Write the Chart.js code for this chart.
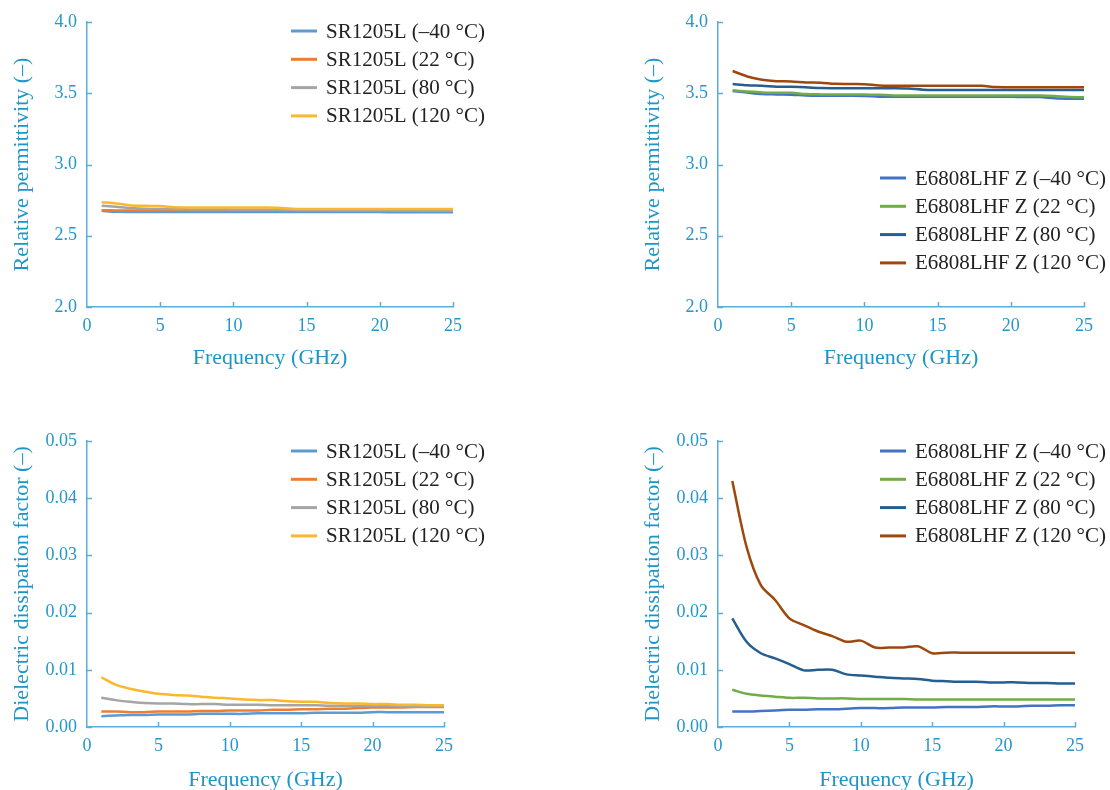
<!DOCTYPE html>
<html>
<head>
<meta charset="utf-8">
<script src="https://cdn.jsdelivr.net/npm/chart.js@4.4.0/dist/chart.umd.min.js"></script>
<style>
  html, body { margin: 0; padding: 0; background: #fff; overflow: hidden; }
  #wrap { position: relative; width: 1110px; height: 790px; }
  .box { position: absolute; height: 395px; }
</style>
</head>
<body>
<div id="wrap">
  <div class="box" style="left:0;top:0;width:560px"><canvas id="c1" width="560" height="395"></canvas></div>
  <div class="box" style="left:631px;top:0;width:479px"><canvas id="c2" width="479" height="395"></canvas></div>
  <div class="box" style="left:0;top:419px;width:560px"><canvas id="c3" width="560" height="395"></canvas></div>
  <div class="box" style="left:631px;top:419px;width:479px"><canvas id="c4" width="479" height="395"></canvas></div>
</div>
<script>
// Datos
const freq = [1,2,3,4,5,6,7,8,9,10,11,12,13,14,15,16,17,18,19,20,21,22,23,24,25];
const xTicks = [0,5,10,15,20,25];
const permTicks = [2.0,2.5,3.0,3.5,4.0];
const dfTicks = [0,0.01,0.02,0.03,0.04,0.05];

const srLabels = ['SR1205L (\u201340 \u00b0C)','SR1205L (22 \u00b0C)','SR1205L (80 \u00b0C)','SR1205L (120 \u00b0C)'];
const eLabels = ['E6808LHF Z (\u201340 \u00b0C)','E6808LHF Z (22 \u00b0C)','E6808LHF Z (80 \u00b0C)','E6808LHF Z (120 \u00b0C)'];
const srColors = ['#5b9bd5','#ed7d31','#a5a5a5','#fbb82c'];
const eColors = ['#4472c4','#70ad47','#255e91','#9e480e'];

// SR1205L permitividad
const srPerm40 = [2.675,2.668,2.667,2.667,2.667,2.667,2.667,2.667,2.667,2.667,2.667,2.667,2.667,2.667,2.667,2.666,2.666,2.666,2.666,2.666,2.665,2.665,2.665,2.665,2.665];
const srPerm22 = [2.679,2.678,2.678,2.678,2.679,2.679,2.679,2.679,2.679,2.679,2.679,2.679,2.679,2.680,2.680,2.680,2.680,2.680,2.680,2.681,2.681,2.681,2.681,2.681,2.681];
const srPerm80 = [2.711,2.703,2.695,2.690,2.688,2.686,2.685,2.684,2.684,2.683,2.683,2.682,2.682,2.680,2.679,2.679,2.678,2.678,2.678,2.677,2.677,2.677,2.676,2.676,2.676];
const srPerm120 = [2.735,2.727,2.713,2.710,2.708,2.700,2.698,2.698,2.698,2.698,2.698,2.698,2.697,2.690,2.688,2.688,2.688,2.688,2.688,2.688,2.688,2.688,2.688,2.688,2.688];

// E6808LHF Z permitividad
const ePerm40 = [3.516,3.505,3.495,3.492,3.490,3.484,3.482,3.482,3.482,3.481,3.476,3.475,3.475,3.475,3.475,3.475,3.475,3.475,3.475,3.475,3.474,3.473,3.465,3.462,3.462];
const ePerm22 = [3.521,3.512,3.505,3.503,3.503,3.494,3.492,3.492,3.492,3.491,3.489,3.485,3.484,3.484,3.484,3.484,3.484,3.484,3.484,3.484,3.484,3.484,3.480,3.473,3.472];
const ePerm80 = [3.565,3.556,3.553,3.546,3.545,3.542,3.536,3.535,3.535,3.535,3.535,3.535,3.533,3.525,3.523,3.523,3.523,3.523,3.523,3.523,3.523,3.523,3.523,3.523,3.523];
const ePerm120 = [3.656,3.618,3.595,3.585,3.583,3.576,3.574,3.566,3.565,3.564,3.555,3.553,3.553,3.553,3.553,3.553,3.553,3.552,3.543,3.542,3.542,3.542,3.542,3.542,3.542];

// SR1205L factor de disipación
const srDf40 = [0.0019,0.0020,0.0021,0.0021,0.0022,0.0022,0.0022,0.0023,0.0023,0.0023,0.0023,0.0024,0.0024,0.0024,0.0024,0.0025,0.0025,0.0025,0.0025,0.0026,0.0026,0.0026,0.0026,0.0026,0.0026];
const srDf22 = [0.0027,0.0027,0.0026,0.0026,0.0027,0.0027,0.0027,0.0028,0.0028,0.0029,0.0029,0.0029,0.0030,0.0030,0.0031,0.0031,0.0032,0.0032,0.0033,0.0034,0.0034,0.0034,0.0035,0.0035,0.0035];
const srDf80 = [0.0051,0.0047,0.0044,0.0042,0.0041,0.0041,0.0040,0.0040,0.0040,0.0039,0.0039,0.0039,0.0038,0.0038,0.0038,0.0038,0.0037,0.0037,0.0037,0.0037,0.0037,0.0036,0.0036,0.0036,0.0036];
const srDf120 = [0.0087,0.0074,0.0067,0.0062,0.0058,0.0056,0.0055,0.0053,0.0051,0.0050,0.0048,0.0047,0.0047,0.0045,0.0044,0.0044,0.0042,0.0041,0.0041,0.0040,0.0040,0.0039,0.0039,0.0038,0.0038];

// E6808LHF Z factor de disipación
const eDf40 = [0.0027,0.0027,0.0028,0.0029,0.0030,0.0030,0.0031,0.0031,0.0032,0.0033,0.0033,0.0033,0.0034,0.0034,0.0034,0.0035,0.0035,0.0035,0.0036,0.0036,0.0036,0.0037,0.0037,0.0038,0.0038];
const eDf22 = [0.0065,0.0058,0.0055,0.0053,0.0051,0.0051,0.0050,0.0050,0.0050,0.0049,0.0049,0.0049,0.0049,0.0048,0.0048,0.0048,0.0048,0.0048,0.0048,0.0048,0.0048,0.0048,0.0048,0.0048,0.0048];
const eDf80 = [0.0190,0.0149,0.0129,0.0120,0.0110,0.0099,0.0100,0.0100,0.0092,0.0090,0.0088,0.0086,0.0085,0.0084,0.0081,0.0080,0.0079,0.0079,0.0078,0.0078,0.0078,0.0077,0.0077,0.0076,0.0076];
const eDf120 = [0.0430,0.0315,0.0248,0.0222,0.0190,0.0178,0.0167,0.0159,0.0149,0.0151,0.0139,0.0139,0.0139,0.0141,0.0129,0.0130,0.0130,0.0130,0.0130,0.0130,0.0130,0.0130,0.0130,0.0130,0.0130];

const FONT = "'Liberation Serif', 'Times New Roman', serif";
const TICK_COLOR = '#2497cc';
const TITLE_COLOR = '#1c95c7';
const AXIS_COLOR = '#5aaedb';

// ===== PLUGIN: marcas de eje hacia dentro + leyenda =====
const extrasPlugin = {
    id: 'extras',
    afterDraw(chart, args, opts) {
        const ctx = chart.ctx;
        const xs = chart.scales.x, ys = chart.scales.y;
        ctx.save();
        ctx.strokeStyle = AXIS_COLOR;
        ctx.lineWidth = 1.5;
        ctx.beginPath();
        xs.ticks.forEach(t => {
            if (t.value === xs.min) return;
            const px = Math.round(xs.getPixelForValue(t.value)) + 0.5;
            ctx.moveTo(px, xs.top);
            ctx.lineTo(px, xs.top - 5);
        });
        ys.ticks.forEach(t => {
            const py = Math.round(ys.getPixelForValue(t.value)) + 0.5;
            ctx.moveTo(ys.right, py);
            ctx.lineTo(ys.right + 5, py);
        });
        ctx.stroke();

        // leyenda
        ctx.font = "21px " + FONT;
        ctx.textBaseline = 'middle';
        ctx.textAlign = 'left';
        chart.data.datasets.forEach((ds, i) => {
            const y = opts.y + i * 28.3;
            ctx.strokeStyle = ds.borderColor;
            ctx.lineWidth = 3;
            ctx.beginPath();
            ctx.moveTo(opts.x, y);
            ctx.lineTo(opts.x + 26, y);
            ctx.stroke();
            ctx.fillStyle = '#222';
            ctx.fillText(ds.label, opts.x + 35, y + 1);
        });
        ctx.restore();
    }
};

function makeChart(id, cfg) {
    const canvas = document.getElementById(id);
    const W = canvas.width, H = canvas.height;
    const datasets = cfg.series.map((vals, i) => ({
        label: cfg.labels[i],
        data: freq.map((f, k) => ({ x: f, y: vals[k] })),
        borderColor: cfg.colors[i],
        borderWidth: 2.5,
        pointRadius: 0,
        tension: 0.3,
        fill: false,
        order: cfg.series.length - i
    }));

    return new Chart(canvas, {
        type: 'line',
        data: { datasets },
        plugins: [extrasPlugin],
        options: {
            responsive: false,
            animation: false,
            devicePixelRatio: 1,
            layout: { padding: { left: 0, top: 22, right: W - cfg.right, bottom: 0 } },
            plugins: {
                legend: { display: false },
                tooltip: { enabled: false },
                extras: { x: cfg.legendX, y: cfg.legendY }
            },
            scales: {
                x: {
                    type: 'linear',
                    min: 0, max: 25,
                    afterBuildTicks: s => { s.ticks = xTicks.map(v => ({ value: v })); },
                    afterFit: s => { s.height = H - cfg.bottom; },
                    grid: { drawOnChartArea: false, drawTicks: false },
                    border: { color: AXIS_COLOR, width: 1.5 },
                    ticks: { color: TICK_COLOR, font: { family: FONT, size: 18 }, padding: 8, maxRotation: 0, callback: v => String(v) },
                    title: { display: true, text: 'Frequency (GHz)', color: TITLE_COLOR, font: { family: FONT, size: 22 }, padding: { top: 0, bottom: cfg.xTitlePad } }
                },
                y: {
                    min: cfg.yTicks[0], max: cfg.yTicks[cfg.yTicks.length - 1],
                    afterBuildTicks: s => { s.ticks = cfg.yTicks.map(v => ({ value: v })); },
                    afterFit: s => { s.width = 87; },
                    grid: { drawOnChartArea: false, drawTicks: false },
                    border: { color: AXIS_COLOR, width: 1.5 },
                    ticks: { color: TICK_COLOR, font: { family: FONT, size: 18 }, padding: 10, callback: v => v.toFixed(cfg.decimals) },
                    title: { display: true, text: cfg.yTitle, color: TITLE_COLOR, font: { family: FONT, size: 22 }, padding: { top: 9, bottom: 0 } }
                }
            }
        }
    });
}

makeChart('c1', { series: [srPerm40, srPerm22, srPerm80, srPerm120], labels: srLabels, colors: srColors,
    yTicks: permTicks, decimals: 1, yTitle: 'Relative permittivity (\u2013)', right: 453, bottom: 307, xTitlePad: 24, legendX: 291, legendY: 31 });
makeChart('c2', { series: [ePerm40, ePerm22, ePerm80, ePerm120], labels: eLabels, colors: eColors,
    yTicks: permTicks, decimals: 1, yTitle: 'Relative permittivity (\u2013)', right: 453, bottom: 307, xTitlePad: 24, legendX: 249, legendY: 178 });
makeChart('c3', { series: [srDf40, srDf22, srDf80, srDf120], labels: srLabels, colors: srColors,
    yTicks: dfTicks, decimals: 2, yTitle: 'Dielectric dissipation factor (\u2013)', right: 444, bottom: 308, xTitlePad: 21, legendX: 291, legendY: 32 });
makeChart('c4', { series: [eDf40, eDf22, eDf80, eDf120], labels: eLabels, colors: eColors,
    yTicks: dfTicks, decimals: 2, yTitle: 'Dielectric dissipation factor (\u2013)', right: 444, bottom: 308, xTitlePad: 21, legendX: 249, legendY: 32 });
</script>
</body>
</html>
